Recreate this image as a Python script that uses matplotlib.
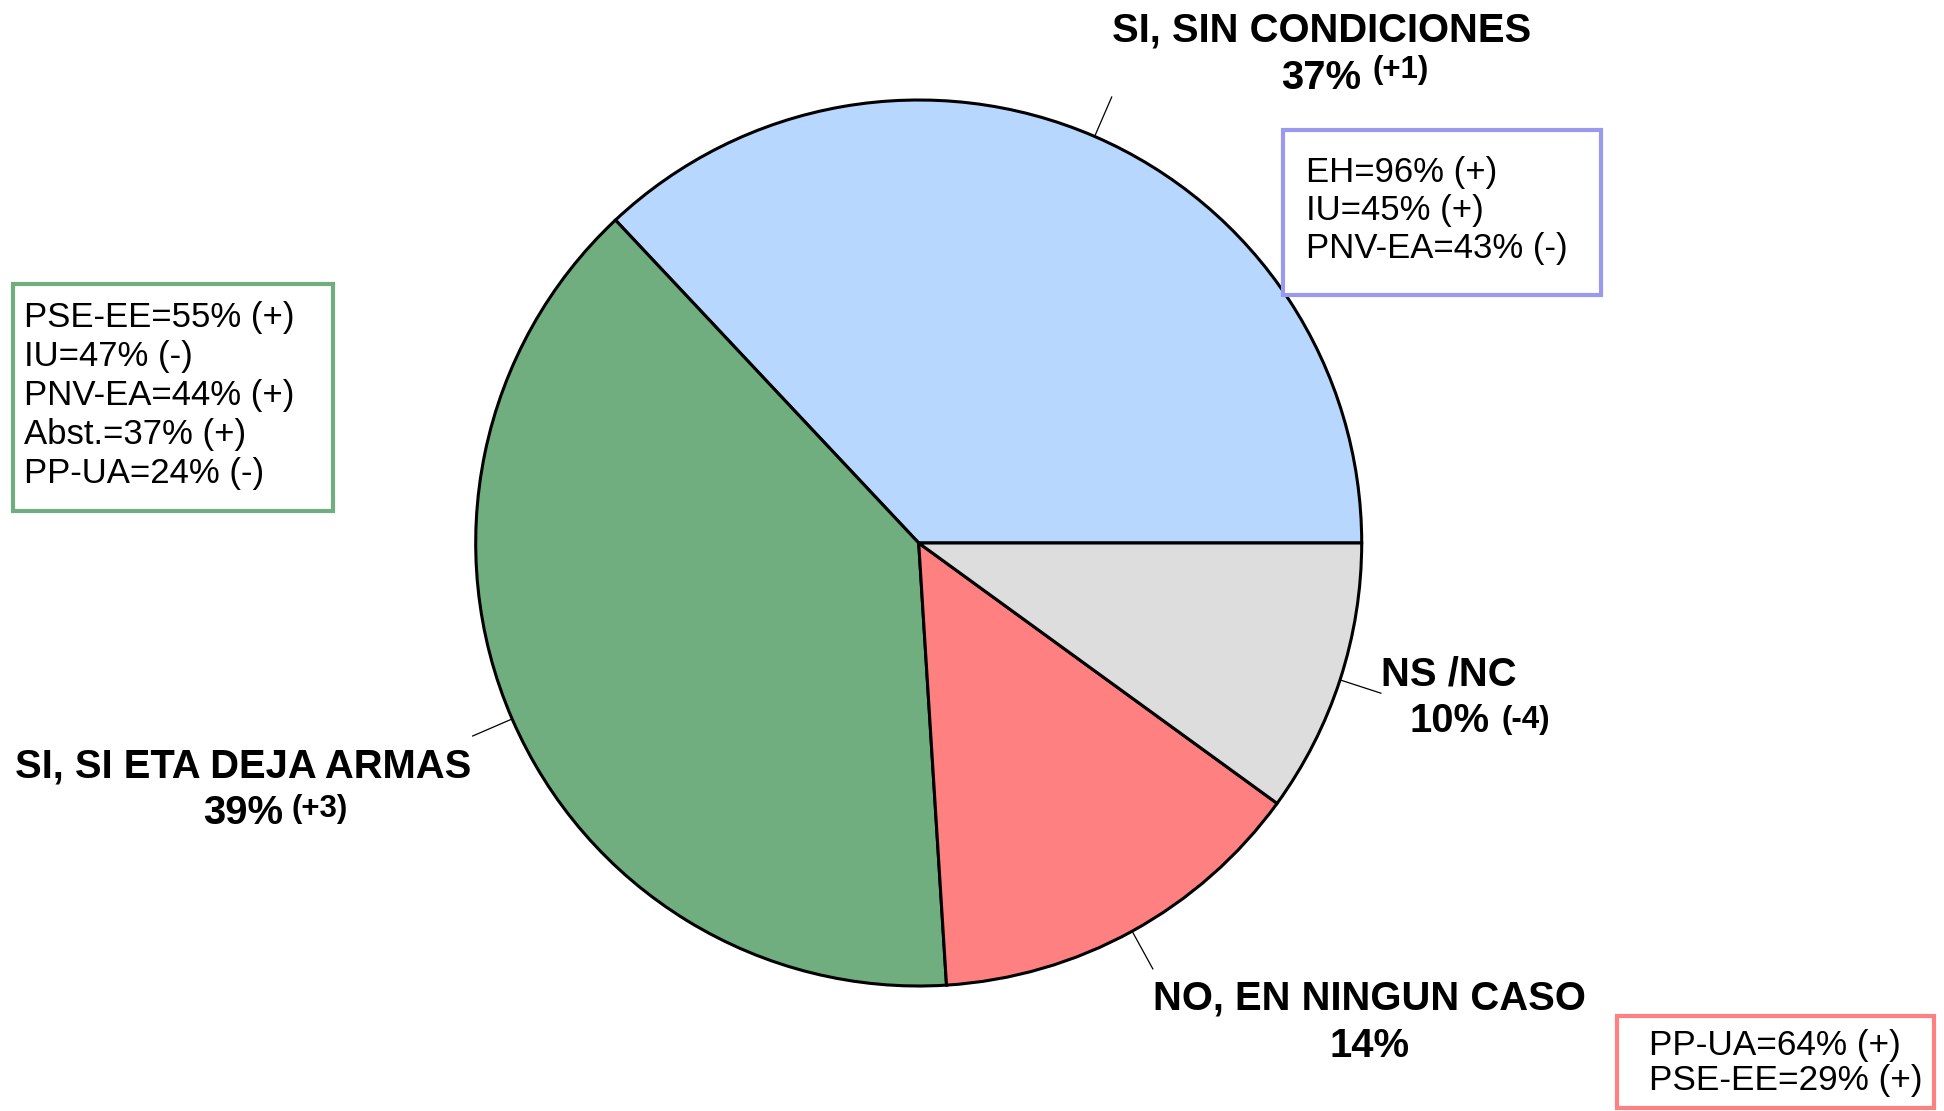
import numpy as np
import matplotlib
matplotlib.use("Agg")
import matplotlib.pyplot as plt
from matplotlib.patches import Rectangle

# Survey answers (share of respondents, %) and change versus previous wave
categories = ["SI, SIN CONDICIONES", "SI, SI ETA DEJA ARMAS", "NO, EN NINGUN CASO", "NS /NC"]
shares = [37, 39, 14, 10]
changes = ["(+1)", "(+3)", "", "(-4)"]
colors = ["#B7D7FF", "#70AE80", "#FF8080", "#DDDDDD"]

# Party breakdown notes attached to each answer
notes_sin_condiciones = ["EH=96% (+)", "IU=45% (+)", "PNV-EA=43% (-)"]
notes_deja_armas = ["PSE-EE=55% (+)", "IU=47% (-)", "PNV-EA=44% (+)", "Abst.=37% (+)", "PP-UA=24% (-)"]
notes_ningun_caso = ["PP-UA=64% (+)", "PSE-EE=29% (+)"]

W, H = 1944, 1111
plt.rcParams["font.family"] = ["Liberation Sans", "DejaVu Sans"]

fig = plt.figure(figsize=(W / 100, H / 100), dpi=100)
ax = fig.add_axes([0, 0, 1, 1])


def Y(y):
    """Convert a top-down pixel row into axes data units."""
    return H - y


cx, cy, R = 918.7, Y(543), 443
wedges, _ = ax.pie(shares, startangle=0, counterclock=True, center=(cx, cy), radius=R,
                   colors=colors, wedgeprops=dict(edgecolor="black", linewidth=2.2))
ax.set_xlim(0, W)
ax.set_ylim(0, H)
ax.set_aspect("equal")
ax.axis("off")

# Leader lines from the middle of each wedge outward
for w in wedges:
    mid = np.deg2rad((w.theta1 + w.theta2) / 2)
    r0, r1 = R, R * 1.097
    ax.plot([cx + r0 * np.cos(mid), cx + r1 * np.cos(mid)],
            [cy + r0 * np.sin(mid), cy + r1 * np.sin(mid)],
            color="black", lw=0.9)

big = dict(fontsize=28.8, fontweight="bold", va="baseline", color="black")
sup = dict(fontsize=22.5, fontweight="bold", va="baseline", color="black")

# SI, SIN CONDICIONES
ax.text(1322, Y(42), categories[0], ha="center", **big)
ax.text(1281, Y(89), f"{shares[0]}%", ha="left", **big)
ax.text(1372, Y(78), changes[0], ha="left", **sup)

# SI, SI ETA DEJA ARMAS
ax.text(243, Y(777), categories[1], ha="center", **big)
ax.text(203, Y(824), f"{shares[1]}%", ha="left", **big)
ax.text(291, Y(817), changes[1], ha="left", **sup)

# NO, EN NINGUN CASO
ax.text(1369, Y(1010), categories[2], ha="center", **big)
ax.text(1369, Y(1057), f"{shares[2]}%", ha="center", **big)

# NS /NC
ax.text(1381, Y(685), categories[3], ha="left", **big)
ax.text(1409, Y(732), f"{shares[3]}%", ha="left", **big)
ax.text(1501, Y(728), changes[3], ha="left", **sup)


def note_box(x0, y0, x1, y1, edge, lines, tx, first_base, step, size):
    ax.add_patch(Rectangle((x0, Y(y1)), x1 - x0, y1 - y0, facecolor="white",
                           edgecolor=edge, linewidth=3, zorder=3))
    for i, line in enumerate(lines):
        ax.text(tx, Y(first_base + i * step), line, ha="left", va="baseline",
                fontsize=size, color="black", zorder=4)


note_box(1283, 130, 1601, 295, "#9999EE", notes_sin_condiciones, 1306, 182, 38, 25)
note_box(13, 284, 333, 511, "#70AE80", notes_deja_armas, 24, 327, 39, 25)
note_box(1617, 1016, 1934, 1108, "#FF8080", notes_ningun_caso, 1649, 1055, 35, 25.3)

fig.savefig("out.png", dpi=100)
